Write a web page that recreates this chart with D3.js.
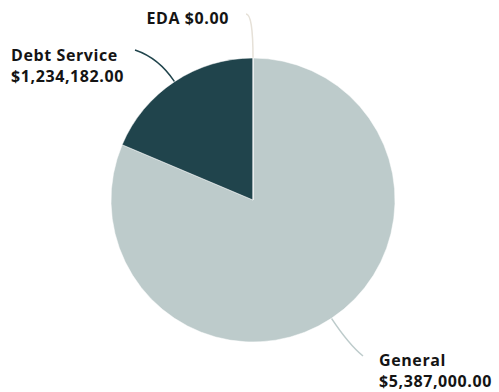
<!DOCTYPE html>
<html>
<head>
<meta charset="utf-8">
<script src="https://cdn.jsdelivr.net/npm/d3@7"></script>
<style>
  html, body { margin: 0; padding: 0; background: #fff; }
  svg text { font-family: "Open Sans", sans-serif; font-weight: 700; fill: #141414; letter-spacing: 0.6px; }
</style>
</head>
<body>
<svg id="chart" width="499" height="392"></svg>
<script>
// Fund allocation
const categories = ["General", "Debt Service", "EDA"];
const values = [5387000.00, 1234182.00, 0.00];
const colors = ["#bdcbcb", "#20444c", "#e6e1d8"];

const width = 499, height = 392;
const cx = 253, cy = 200, radius = 142;
const fmt = d3.format("$,.2f");

const svg = d3.select("#chart");
const g = svg.append("g").attr("transform", `translate(${cx},${cy})`);

const data = categories.map((c, i) => ({ name: c, value: values[i], color: colors[i] }));

const pie = d3.pie().sort(null).value(d => d.value);
const arcs = pie(data);
const arc = d3.arc().innerRadius(0).outerRadius(radius);

// Label placement for each slice: text anchor point, end of leader line, text alignment
const labelLayout = {
  "General":      { tx: 379, ty: 366, end: [363, 356], ctrl: 1.22, anchor: "start" },
  "Debt Service": { tx: 11,  ty: 61,  end: [135, 50],  ctrl: 1.2,  anchor: "start" },
  "EDA":          { tx: 229, ty: 24,  end: [246, 14],  ctrl: 1.31, anchor: "end", oneLine: true }
};

// leader lines
arcs.forEach(a => {
  const mid = (a.startAngle + a.endAngle) / 2;
  const sx = Math.sin(mid) * radius, sy = -Math.cos(mid) * radius;
  const L = labelLayout[a.data.name];
  const k = L.ctrl;
  const path = d3.path();
  path.moveTo(sx, sy);
  path.quadraticCurveTo(sx * k, sy * k, L.end[0] - cx, L.end[1] - cy);
  g.append("path")
    .attr("d", path.toString())
    .attr("fill", "none")
    .attr("stroke", a.data.color)
    .attr("stroke-width", 1.5);
});

// slices
g.selectAll("path.slice")
  .data(arcs)
  .join("path")
  .attr("class", "slice")
  .attr("d", arc)
  .attr("fill", d => d.data.color)
  .attr("stroke", "#fff")
  .attr("stroke-width", 0.5);

// labels
arcs.forEach(a => {
  const L = labelLayout[a.data.name];
  const t = svg.append("text")
    .attr("x", L.tx)
    .attr("y", L.ty)
    .attr("text-anchor", L.anchor)
    .attr("font-size", 16);
  if (L.oneLine) {
    t.text(`${a.data.name} ${fmt(a.data.value)}`);
  } else {
    t.append("tspan").attr("x", L.tx).text(a.data.name);
    t.append("tspan").attr("x", L.tx).attr("dy", 20.5).text(fmt(a.data.value));
  }
});
</script>
</body>
</html>
